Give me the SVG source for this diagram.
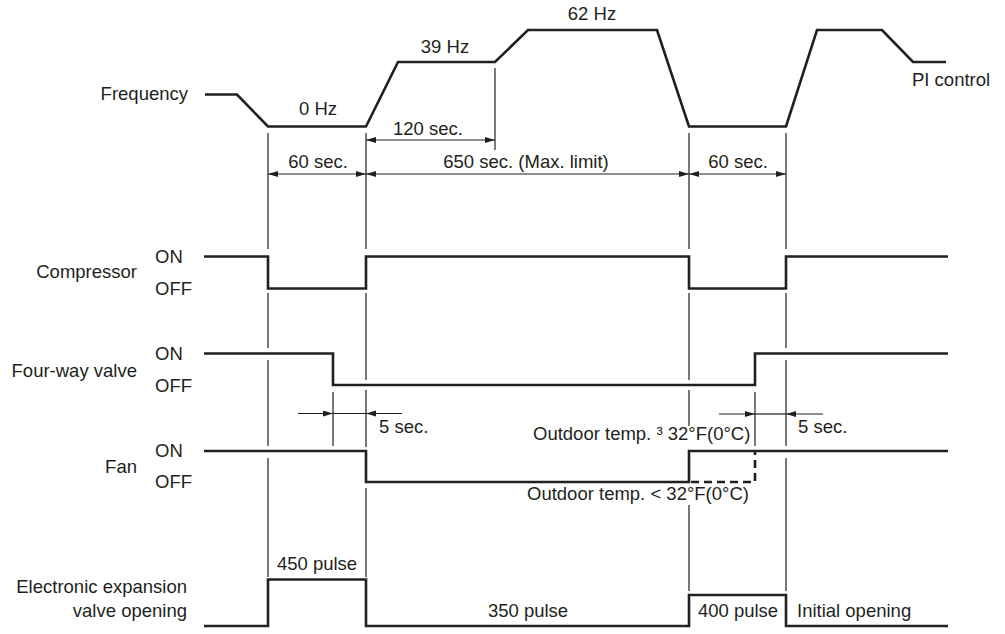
<svg xmlns="http://www.w3.org/2000/svg" width="1005" height="634" viewBox="0 0 1005 634">
<style>
text{font-family:"Liberation Sans",Arial,sans-serif;font-size:18.5px;fill:#231f20}
.e{text-anchor:end}.m{text-anchor:middle}
.tr{fill:none;stroke:#231f20;stroke-width:2.6;stroke-linejoin:miter}
.dash{fill:none;stroke:#231f20;stroke-width:2.6;stroke-dasharray:8 5}
.th{fill:none;stroke:#231f20;stroke-width:1.2}
.dim{fill:none;stroke:#231f20;stroke-width:1.2;marker-start:url(#ah);marker-end:url(#ah)}
.one{fill:none;stroke:#231f20;stroke-width:1.2;marker-end:url(#ah)}
</style>
<defs>
<marker id="ah" markerUnits="userSpaceOnUse" markerWidth="11" markerHeight="7" refX="10" refY="3" orient="auto-start-reverse">
<path d="M0,0 L10,3 L0,6 z" fill="#231f20"/>
</marker>
</defs>
<rect width="1005" height="634" fill="#fff"/>

<g id="frequency">
<text class="e" x="188" y="100">Frequency</text>
<polyline class="tr" points="205,94.5 237,94.5 268,126.5 366,126.5 398,62 495,62 528,30 657,30 689,126.5 786,126.5 817,30 882,30 913,62 946,62"/>
<text class="m" x="318" y="115">0 Hz</text>
<text class="m" x="445" y="53">39 Hz</text>
<text class="m" x="592" y="20">62 Hz</text>
<text x="912" y="86">PI control</text>
</g>

<g id="compressor">
<text class="e" x="137" y="278">Compressor</text>
<text x="155" y="263">ON</text>
<text x="155" y="295">OFF</text>
<polyline class="tr" points="204,256.5 268,256.5 268,288.5 366,288.5 366,256.5 689,256.5 689,288.5 786,288.5 786,256.5 948,256.5"/>
</g>

<g id="four-way-valve">
<text class="e" x="137" y="377">Four-way valve</text>
<text x="155" y="360">ON</text>
<text x="155" y="392">OFF</text>
<polyline class="tr" points="204,353.5 333,353.5 333,385 755,385 755,353.5 948,353.5"/>
</g>

<g id="fan">
<text class="e" x="137" y="473">Fan</text>
<text x="155" y="457">ON</text>
<text x="155" y="488">OFF</text>
<polyline class="tr" points="204,451 366,451 366,482 689,482 689,451 948,451"/>
<polyline class="dash" points="691,482 755,482 755,451"/>
<text x="533" y="440">Outdoor temp. ³ 32°F(0°C)</text>
<text x="527" y="500">Outdoor temp. &lt; 32°F(0°C)</text>
</g>

<g id="eev">
<text class="e" x="187" y="593">Electronic expansion</text>
<text class="e" x="187" y="617">valve opening</text>
<polyline class="tr" points="204,626 268,626 268,579.5 366,579.5 366,626 689,626 689,595 786,595 786,626 948,626"/>
<text class="m" x="317" y="570">450 pulse</text>
<text class="m" x="528" y="617">350 pulse</text>
<text class="m" x="738" y="617">400 pulse</text>
<text x="797" y="617">Initial opening</text>
</g>

<g id="connectors">
<path class="th" d="M268,133V249M268,293V348M268,360V446M268,458V577"/>
<path class="th" d="M366,133V249M366,293V380M366,390V447M366,488V577"/>
<path class="th" d="M495,68V150"/>
<path class="th" d="M333,392V446"/>
<path class="th" d="M689,133V249M689,293V380M689,390V426M689,505V591"/>
<path class="th" d="M755,392V446"/>
<path class="th" d="M786,133V249M786,293V348M786,360V446M786,458V591"/>
<line class="dim" x1="366" y1="140" x2="495" y2="140"/>
<text class="m" x="428" y="135">120 sec.</text>
<line class="dim" x1="268" y1="174" x2="366" y2="174"/>
<text class="m" x="318" y="168">60 sec.</text>
<line class="dim" x1="366" y1="174" x2="689" y2="174"/>
<text class="m" x="526" y="168">650 sec. (Max. limit)</text>
<line class="dim" x1="689" y1="174" x2="786" y2="174"/>
<text class="m" x="738" y="168">60 sec.</text>
<line class="one" x1="298" y1="413.5" x2="333" y2="413.5"/>
<line class="th" x1="333" y1="413.5" x2="366" y2="413.5"/>
<line class="one" x1="402" y1="413.5" x2="366" y2="413.5"/>
<text x="379" y="433">5 sec.</text>
<line class="one" x1="719" y1="414" x2="755" y2="414"/>
<line class="th" x1="755" y1="414" x2="786" y2="414"/>
<line class="one" x1="823" y1="414" x2="786" y2="414"/>
<text x="798" y="433">5 sec.</text>
</g>
</svg>
